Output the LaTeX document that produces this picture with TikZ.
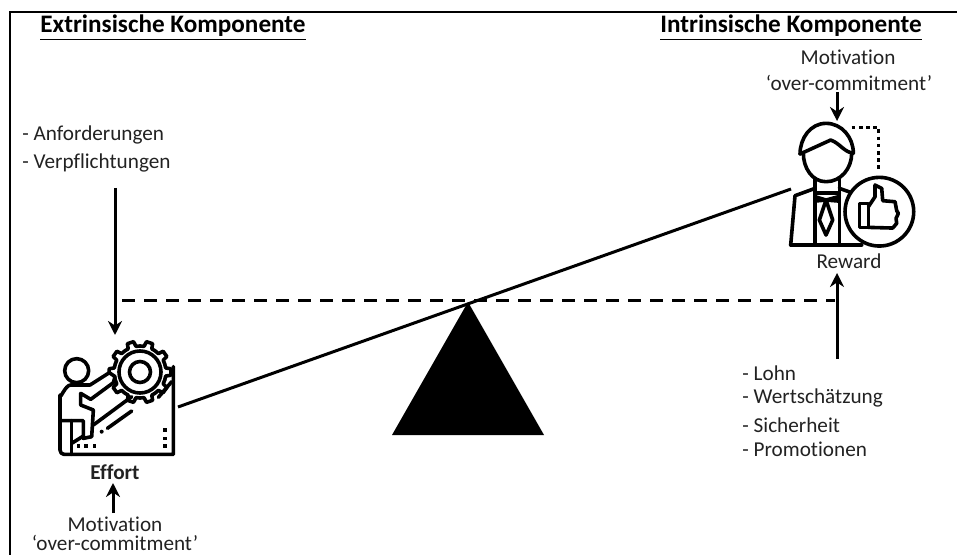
\documentclass[tikz,border=0pt]{standalone}
\usepackage{fontspec}
\setmainfont[RawFeature={-liga,-dlig,-clig}]{Carlito}
\usetikzlibrary{arrows.meta,positioning}
\definecolor{TextGray}{HTML}{222222}

\begin{document}
\begin{tikzpicture}[
  x=0.5pt, y=-0.5pt,
  >={Stealth[length=7pt,width=7pt]},
  % column heading
  ttl/.style={font=\fontsize{12.6}{14}\selectfont\bfseries, inner sep=0pt},
  % plain label
  lbl/.style={font=\fontsize{10.6}{12}\selectfont, text=TextGray, inner sep=0pt},
  % bullet-like label
  item/.style={lbl, anchor=west},
  % arrow
  arr/.style={->, line width=1.5pt},
  % icon outline
  icon/.style={line width=1.8pt, line join=round, line cap=round},
]
\useasboundingbox (0,0) rectangle (957,555);

%% ── Outer frame ──────────────────────────────────────────────────────────
\draw[line width=1pt] (10,555) -- (10,12) -- (957,12);

%% ── Headings ─────────────────────────────────────────────────────────────
\node[ttl] (extr) at (173,28) {\underline{Extrinsische Komponente}};
\node[ttl] (intr) at (791,28) {\underline{Intrinsische Komponente}};

%% ── Labels ───────────────────────────────────────────────────────────────
\node[lbl] (motivR) at (848,57) {Motivation};
\node[lbl] (overR)  at (849,83) {‘over-commitment’};
\node[lbl] (reward) at (849,261) {Reward};
\node[item] (anf)  at (22,135) {- Anforderungen};
\node[item] (verp) at (22,163) {- Verpflichtungen};
\node[item] (lohn) at (742,373) {- Lohn};
\node[item] (wert) at (742,398) {- Wertschätzung};
\node[item] (sich) at (742,425) {- Sicherheit};
\node[item] (prom) at (742,449) {- Promotionen};
\node[lbl, font=\fontsize{10.6}{12}\selectfont\bfseries] (effort) at (115,472) {Effort};
\node[lbl] (motivL) at (115,524) {Motivation};
\node[lbl] (overL)  at (115,543) {‘over-commitment’};

%% ── Anchor points ────────────────────────────────────────────────────────
\coordinate (apex)   at (468,302);
\coordinate (baseL)  at (392,435);
\coordinate (baseR)  at (544,435);
\coordinate (beamL)  at (178,407);
\coordinate (beamR)  at (791,189);
\coordinate (dashL)  at (122,301);
\coordinate (dashR)  at (835,301);
\coordinate (gearIn) at (115,335);
\coordinate (verpO)  at (115,188);
\coordinate (headIn) at (837,121);
\coordinate (overO)  at (837,92);
\coordinate (rewIn)  at (837,273);
\coordinate (lohnO)  at (837,359);
\coordinate (effIn)  at (113,483);
\coordinate (motO)   at (113,513);

%% ── Seesaw ───────────────────────────────────────────────────────────────
\fill (apex) -- (baseR) -- (baseL) -- cycle;
\draw[line width=1.5pt, dash pattern=on 6.5pt off 4.5pt] (dashL) -- (dashR);
\draw[line width=1.5pt] (beamL) -- (beamR);

%% ── Arrows ───────────────────────────────────────────────────────────────
\draw[arr] (verpO) -- (gearIn);
\draw[arr] (overO) -- (headIn);
\draw[arr] (lohnO) -- (rewIn);
\draw[arr] (motO) -- (effIn);

%% ── Effort icon ──────────────────────────────────────────────────────────
\begin{scope}[shift={(140,372)}]
  \foreach \a in {0,36,...,324}{
    \draw[icon] (\a-18:26) -- (\a-9:26) -- (\a-6:31) -- (\a+6:31) -- (\a+9:26) -- (\a+18:26);
  }
  \draw[icon] (0,0) circle (21);
  \draw[icon] (0,0) circle (10.5);
\end{scope}
\begin{scope}[shift={(0,360)}, x=0.1667pt, y=-0.1667pt]
  \draw[icon] (230,32) circle (36);
  \draw[icon, fill=white] (180,270) -- (180,105) to[out=-90,in=180] (212,75) -- (270,75)
    -- (328,38) -- (345,50) -- (340,68) -- (272,118) -- (242,100) -- (242,135) -- (280,150)
    -- (275,230) -- (250,235) -- (250,182) -- (180,182);
  \draw[icon] (215,182) -- (215,283);
  \draw[icon] (215,250) -- (250,228);
  \draw[icon] (280,195) -- (395,110);
  \draw[icon] (322,205) -- (395,153);
  \draw[icon] (180,270) to[out=-90,in=180] (192,283) -- (520,283) -- (520,20);
  \draw[icon] (515,65) -- (475,112);
  \fill (305,215) circle (6);
  \foreach \x in {230,253,278}{ \fill (\x,253) rectangle ++(10,10); }
  \foreach \y in {205,230,253}{ \fill (490,\y) rectangle ++(10,10); }
\end{scope}

%% ── Reward icon ──────────────────────────────────────────────────────────
\begin{scope}[shift={(740,0)}, x=0.1667pt, y=-0.1667pt]
  \draw[icon] (180,462) to[out=90,in=180] (258,370) to[out=0,in=90] (340,460);
  \draw[icon] (180,462) -- (272,420) to[out=-20,in=170] (340,460);
  \draw[icon] (190,460) to[out=-90,in=180] (258,545) to[out=0,in=-90] (335,460);
  \draw[icon] (225,535) -- (225,735);
  \draw[icon] (298,535) -- (298,735);
  \draw[icon] (225,578) -- (298,578);
  \draw[icon] (225,590) -- (258,600) -- (295,590) -- (295,603) -- (258,600) -- (225,603) -- cycle;
  \draw[icon] (258,600) -- (238,660) -- (258,705) -- (278,660) -- cycle;
  \draw[icon] (152,735) -- (365,735);
  \draw[icon] (152,735) -- (165,587) -- (225,565);
  \draw[icon] (298,565) -- (335,578);
  \draw[icon, fill=white] (418,635) circle (103);
  \draw[icon] (358,610) rectangle (385,682);
  \draw[icon] (385,620) -- (405,590) -- (405,555) -- (425,565) -- (428,602) -- (465,605)
    -- (470,632) -- (475,640) -- (468,655) -- (470,670) -- (458,684) -- (385,682);
  \draw[line width=1.8pt, dash pattern=on 1.8pt off 1.8pt] (335,382) -- (415,382) -- (415,515);
\end{scope}

\end{tikzpicture}
\end{document}
